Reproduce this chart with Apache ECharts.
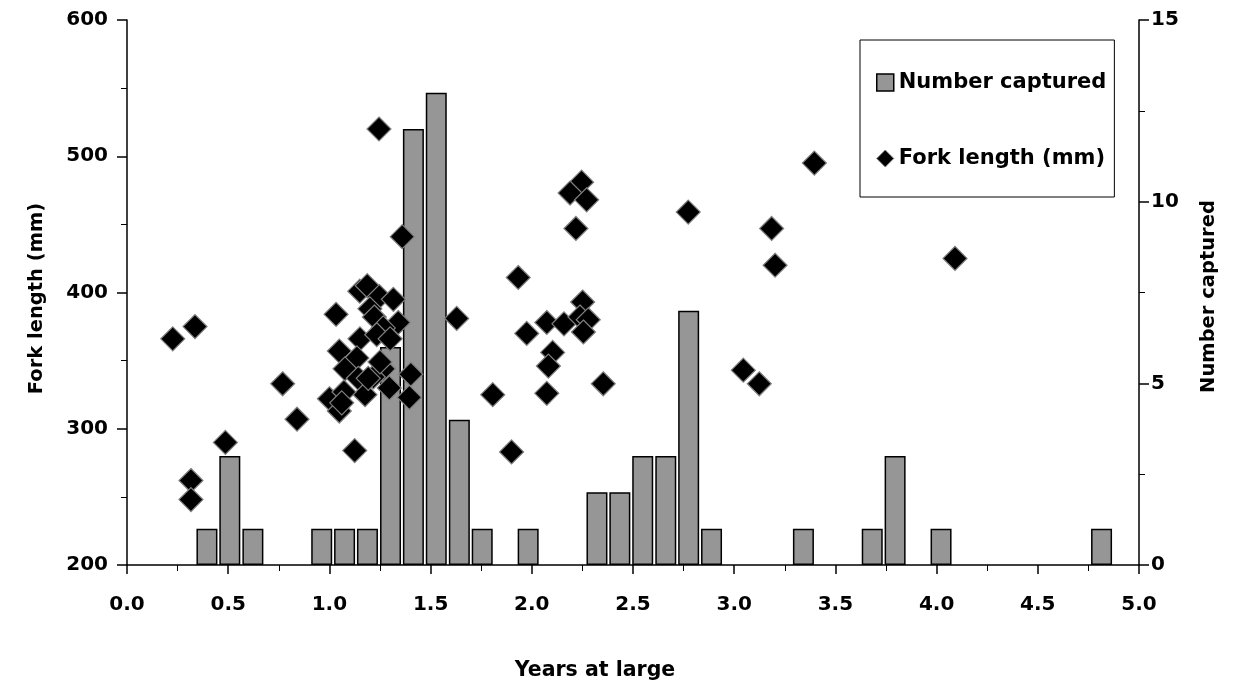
<!DOCTYPE html>
<html>
<head>
<meta charset="utf-8">
<script src="https://cdn.jsdelivr.net/npm/echarts@6/dist/echarts.min.js"></script>
<style>
html,body{margin:0;padding:0;background:#fff;}
#chart{width:1233px;height:687px;}
</style>
</head>
<body>
<div id="chart"></div>
<script>
// Histogram: years at large (bin centre) and number captured
const barYears = [0.395, 0.508, 0.622, 0.962, 1.075, 1.188, 1.302, 1.415, 1.528, 1.642, 1.755, 1.982,
                  2.322, 2.435, 2.548, 2.662, 2.775, 2.888, 3.342, 3.682, 3.795, 4.022, 4.815];
const barCounts = [1, 3, 1, 1, 1, 1, 6, 12, 13, 4, 1, 1,
                   2, 2, 3, 3, 7, 1, 1, 1, 3, 1, 1];

// Scatter: years at large and fork length (mm)
const fishYears = [0.226, 0.336, 0.316, 0.316, 0.486, 0.769, 0.840, 1.033, 1.125, 1.150,
                   1.187, 1.247, 1.316, 1.200, 1.222, 1.340, 1.266, 1.151, 1.234, 1.300,
                   1.049, 1.136, 1.077, 1.143, 1.266, 1.217, 1.296, 1.176, 1.000, 1.049,
                   1.402, 1.395, 1.072, 1.245, 1.360, 1.629, 2.246, 2.189, 2.271, 2.218,
                   2.773, 1.933, 2.251, 2.074, 2.159, 2.238, 2.279, 2.255, 1.975, 2.103,
                   2.082, 2.353, 2.074, 1.807, 1.900, 3.396, 3.185, 3.202, 4.091, 3.045,
                   3.124, 1.250, 1.192, 1.061];
const fishLength = [366, 375, 262, 248, 290, 333, 307, 384, 284, 401,
                    405, 397, 395, 388, 382, 378, 374, 366, 369, 366,
                    357, 352, 344, 337, 344, 338, 330, 325, 322, 313,
                    340, 323, 327, 520, 441, 381, 481, 473, 468, 447,
                    459, 411, 393, 378, 377, 382, 380, 371, 370, 356,
                    346, 333, 326, 325, 283, 495, 447, 420, 425, 343,
                    333, 349, 337, 319];

const xTicks = {min: 0, max: 5, interval: 0.5};
const leftTicks = {min: 200, max: 600, interval: 100};
const rightTicks = {min: 0, max: 15, interval: 5};

const FONT = '"DejaVu Sans", "Liberation Sans", Arial, sans-serif';
const barData = barYears.map((x, i) => [x, barCounts[i]]);
const fishData = fishYears.map((x, i) => [x, fishLength[i]]);

const chart = echarts.init(document.getElementById('chart'), null, {renderer: 'canvas'});
const lineStyle = {color: '#000', width: 1.5};
const tickLabel = {fontFamily: FONT, fontWeight: 'bold', fontSize: 20, color: '#000'};
const titleStyle = {fontFamily: FONT, fontWeight: 'bold', fontSize: 20, color: '#000'};

chart.setOption({
  backgroundColor: '#fff',
  animation: false,
  grid: {left: 127, right: 94, top: 20, bottom: 122, containLabel: false},
  legend: {
    orient: 'vertical',
    left: 860,
    top: 40,
    padding: [32, 8, 28, 16],
    itemGap: 55,
    itemWidth: 17,
    itemHeight: 17,
    borderColor: '#000',
    borderWidth: 1,
    backgroundColor: '#fff',
    textStyle: {fontFamily: FONT, fontWeight: 'bold', fontSize: 21, color: '#000'},
    data: [
      {name: 'Number captured', icon: 'rect', itemStyle: {color: '#969696', borderColor: '#000', borderWidth: 1.5}},
      {name: 'Fork length (mm)', icon: 'diamond', itemStyle: {color: '#000', borderColor: '#808080', borderWidth: 1}}
    ]
  },
  xAxis: {
    type: 'value',
    min: xTicks.min, max: xTicks.max, interval: xTicks.interval,
    name: 'Years at large',
    nameLocation: 'middle',
    nameGap: 95,
    nameTextStyle: Object.assign({}, titleStyle, {fontSize: 20.5, padding: [0, 76, 0, 0]}),
    axisLine: {show: true, lineStyle: lineStyle},
    axisTick: {show: true, length: 9, lineStyle: lineStyle},
    minorTick: {show: true, splitNumber: 2, length: 6, lineStyle: {color: '#000', width: 1}},
    splitLine: {show: false},
    axisLabel: Object.assign({margin: 30, formatter: v => v.toFixed(1)}, tickLabel)
  },
  yAxis: [
    {
      type: 'value',
      min: leftTicks.min, max: leftTicks.max, interval: leftTicks.interval,
      name: 'Fork length (mm)',
      nameLocation: 'middle',
      nameGap: 80,
      nameRotate: 90,
      nameTextStyle: Object.assign({}, titleStyle, {fontSize: 19.5, padding: [0, 12, 0, 0]}),
      axisLine: {show: true, lineStyle: lineStyle},
      axisTick: {show: true, length: 10, lineStyle: lineStyle},
      minorTick: {show: true, splitNumber: 2, length: 6, lineStyle: {color: '#000', width: 1}},
      splitLine: {show: false},
      axisLabel: Object.assign({margin: 19}, tickLabel)
    },
    {
      type: 'value',
      position: 'right',
      min: rightTicks.min, max: rightTicks.max, interval: rightTicks.interval,
      name: 'Number captured',
      nameLocation: 'middle',
      nameGap: 60,
      nameRotate: 90,
      nameTextStyle: Object.assign({}, titleStyle, {fontSize: 19.5, padding: [0, 8, 0, 0]}),
      axisLine: {show: true, lineStyle: lineStyle},
      axisTick: {show: true, length: 10, lineStyle: lineStyle},
      minorTick: {show: true, splitNumber: 2, length: 6, lineStyle: {color: '#000', width: 1}},
      splitLine: {show: false},
      axisLabel: Object.assign({margin: 12}, tickLabel)
    }
  ],
  series: [
    {
      name: 'Number captured',
      type: 'bar',
      yAxisIndex: 1,
      barWidth: 21,
      data: barData,
      z: 2,
      itemStyle: {color: '#969696', borderColor: '#000', borderWidth: 1.5}
    },
    {
      name: 'Fork length (mm)',
      type: 'scatter',
      yAxisIndex: 0,
      symbol: 'diamond',
      symbolSize: 24,
      data: fishData,
      z: 3,
      itemStyle: {color: '#000', borderColor: '#808080', borderWidth: 1.2, opacity: 1}
    }
  ]
});
</script>
</body>
</html>
